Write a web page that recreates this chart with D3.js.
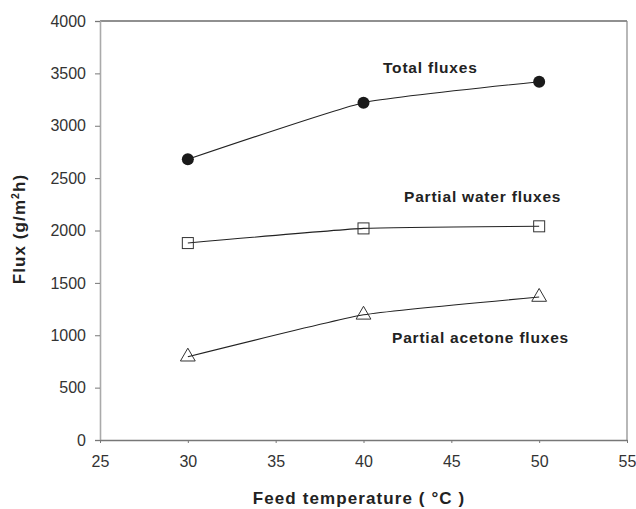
<!DOCTYPE html>
<html>
<head>
<meta charset="utf-8">
<script src="https://cdn.jsdelivr.net/npm/d3@7/dist/d3.min.js"></script>
<style>
  html, body { margin: 0; padding: 0; background: #fff; }
  svg { display: block; font-family: "Liberation Sans", Arial, sans-serif; }
</style>
</head>
<body>
<svg id="chart" width="636" height="509"></svg>
<script>
// Feed temperature (°C)
const temperatures = [30, 40, 50];
// Fluxes in g/m²h
const totalFlux = [2680, 3220, 3420];
const waterFlux = [1880, 2020, 2040];
const acetoneFlux = [795, 1195, 1365];

const xTicks = [25, 30, 35, 40, 45, 50, 55];
const yTicks = [0, 500, 1000, 1500, 2000, 2500, 3000, 3500, 4000];

const svg = d3.select("#chart");
const plotLeft = 100, plotRight = 627, plotTop = 21, plotBottom = 440;

const x = d3.scaleLinear().domain([25, 55]).range([plotLeft, plotRight]);
const y = d3.scaleLinear().domain([0, 4000]).range([plotBottom, plotTop]);

// Frame: top and right edges
svg.append("line").attr("x1", plotLeft).attr("x2", plotRight).attr("y1", plotTop).attr("y2", plotTop)
  .attr("stroke", "#222").attr("stroke-width", 1.2);
svg.append("line").attr("x1", plotRight).attr("x2", plotRight).attr("y1", plotTop).attr("y2", plotBottom)
  .attr("stroke", "#888").attr("stroke-width", 1.2);

// Y axis
const yAxis = svg.append("g").attr("transform", `translate(${plotLeft},0)`)
  .call(d3.axisLeft(y).tickValues(yTicks).tickSize(5).tickPadding(9).tickFormat(d3.format("d")));
yAxis.select(".domain").attr("stroke", "#aaa").attr("stroke-width", 1.6);
yAxis.selectAll(".tick line").attr("stroke", "#777");
yAxis.selectAll("text").attr("font-size", 16).attr("fill", "#333")
  .attr("font-family", "Liberation Sans, Arial, sans-serif");

// X axis
const xAxis = svg.append("g").attr("transform", `translate(0,${plotBottom})`)
  .call(d3.axisBottom(x).tickValues(xTicks).tickSize(3).tickSizeOuter(0).tickPadding(13));
xAxis.select(".domain").attr("stroke", "#777").attr("stroke-width", 1.4);
xAxis.selectAll(".tick line").attr("stroke", "#777");
xAxis.selectAll("text").attr("font-size", 16).attr("fill", "#333")
  .attr("font-family", "Liberation Sans, Arial, sans-serif");

// Axis titles
svg.append("text").attr("x", 359).attr("y", 504).attr("text-anchor", "middle")
  .attr("font-size", 17).attr("font-weight", "bold").attr("fill", "#222")
  .attr("letter-spacing", 1.1)
  .text("Feed temperature ( °C )");

const yTitle = svg.append("text")
  .attr("transform", "translate(25,229) rotate(-90)")
  .attr("text-anchor", "middle").attr("font-size", 17).attr("font-weight", "bold")
  .attr("fill", "#222").attr("letter-spacing", 1.1);
yTitle.append("tspan").text("Flux (g/m");
yTitle.append("tspan").attr("font-size", 10.5).attr("dy", -6).text("2");
yTitle.append("tspan").attr("dy", 6).text("h)");

// Series lines, lightly smoothed
const line = d3.line().curve(d3.curveCardinal.tension(0.6))
  .x((d, i) => x(temperatures[i])).y(d => y(d));

[totalFlux, waterFlux, acetoneFlux].forEach(series => {
  svg.append("path").datum(series).attr("d", line)
    .attr("fill", "none").attr("stroke", "#222").attr("stroke-width", 1.1);
});

// Markers
svg.selectAll(".total").data(totalFlux).enter().append("circle")
  .attr("cx", (d, i) => x(temperatures[i])).attr("cy", d => y(d)).attr("r", 6)
  .attr("fill", "#1a1a1a");

const sq = 11;
svg.selectAll(".water").data(waterFlux).enter().append("rect")
  .attr("x", (d, i) => x(temperatures[i]) - sq / 2).attr("y", d => y(d) - sq / 2)
  .attr("width", sq).attr("height", sq)
  .attr("fill", "none").attr("stroke", "#333").attr("stroke-width", 1);

const tri = d3.symbol().type(d3.symbolTriangle).size(95);
svg.selectAll(".acetone").data(acetoneFlux).enter().append("path")
  .attr("transform", (d, i) => `translate(${x(temperatures[i])},${y(d)})`)
  .attr("d", tri).attr("fill", "none").attr("stroke", "#333").attr("stroke-width", 1);

// Series labels
const labels = [
  { text: "Total fluxes", x: 383, y: 73 },
  { text: "Partial water fluxes", x: 404, y: 202 },
  { text: "Partial acetone fluxes", x: 392, y: 343 }
];
svg.selectAll(".series-label").data(labels).enter().append("text")
  .attr("x", d => d.x).attr("y", d => d.y)
  .attr("font-size", 15.5).attr("font-weight", "bold").attr("fill", "#222")
  .attr("letter-spacing", 0.8)
  .text(d => d.text);
</script>
</body>
</html>
